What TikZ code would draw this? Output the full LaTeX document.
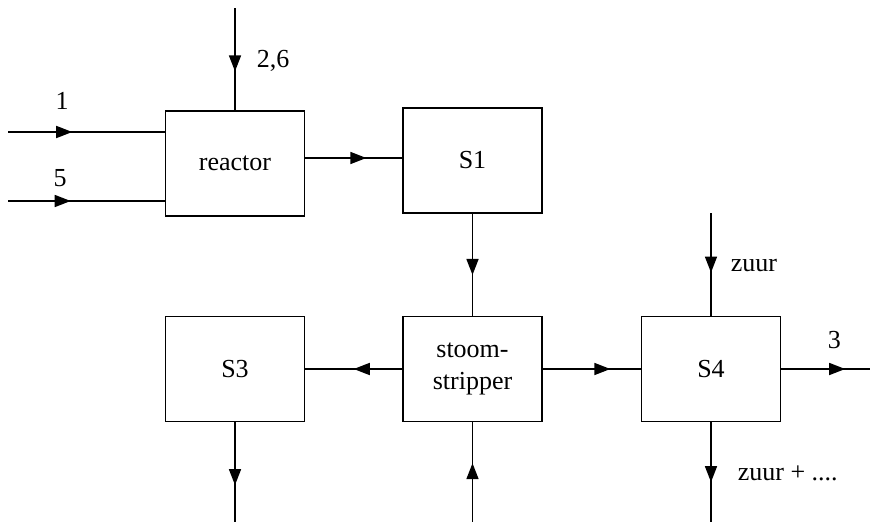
\documentclass[tikz,border=0pt]{standalone}
\usepackage{fontspec}
\setmainfont{Liberation Serif}
\newfontfamily\tnr{Liberation Serif}
\usetikzlibrary{arrows.meta,decorations.markings}
\begin{document}
\begin{tikzpicture}[x=1pt,y=-1pt, line width=1.6pt,
 box/.style={draw, minimum width=139pt, minimum height=105pt, inner sep=0pt, align=center, font=\tnr\fontsize{26}{32}\selectfont},
 lbl/.style={font=\tnr\fontsize{26}{30}\selectfont, inner sep=0pt},
 midarrow/.style={postaction={decorate}, decoration={markings, mark=at position #1 with {\arrow{Triangle[length=16pt,width=12pt]}}}}]
\useasboundingbox (0,0) rectangle (870,522);
\node[box] (reactor) at (235,163.5) {reactor};
\node[box] (s1) at (472.5,160.5) {S1};
\node[box] (s3) at (235,369) {S3};
\node[box] (strip) at (472.5,369) {stoom-\\stripper};
\node[box] (s4) at (711,369) {S4};
\coordinate (in1) at (8,132);
\coordinate (in5) at (8,201);
\coordinate (top) at (235,8);
\coordinate (s4top) at (711,213);
\coordinate (s4out) at (870,369);
\coordinate (s4bot) at (711,522);
\coordinate (s3bot) at (235,522);
\coordinate (stripin) at (472.5,522);
\coordinate (rs1) at (305,158);
\draw[midarrow=0.41] (in1) -- (in1 -| reactor.west);
\draw[midarrow=0.40] (in5) -- (in5 -| reactor.west);
\draw[midarrow=0.62] (top) -- (reactor.north);
\draw[midarrow=0.63] (reactor.east |- rs1) -- (rs1 -| s1.west);
\draw[midarrow=0.60] (s1.south) -- (strip.north);
\draw[midarrow=0.50] (strip.west) -- (s3.east);
\draw[midarrow=0.69] (strip.east) -- (s4.west);
\draw[midarrow=0.58] (s4top) -- (s4.north);
\draw[midarrow=0.72] (s4.east) -- (s4out);
\draw[midarrow=0.60] (s4.south) -- (s4bot);
\draw[midarrow=0.63] (s3.south) -- (s3bot);
\draw[midarrow=0.59] (stripin) -- (strip.south);
\node[lbl] (l1) at (62,101) {1};
\node[lbl] (l5) at (60,178.5) {5};
\node[lbl, anchor=base west] (l26) at (256,67) {2,6};
\node[lbl, anchor=base west] (lzuur) at (730,271) {zuur};
\node[lbl, anchor=base west] (l3) at (827,348) {3};
\node[lbl, anchor=base west] (lzuur2) at (737,480) {zuur + ....};
\end{tikzpicture}
\end{document}
